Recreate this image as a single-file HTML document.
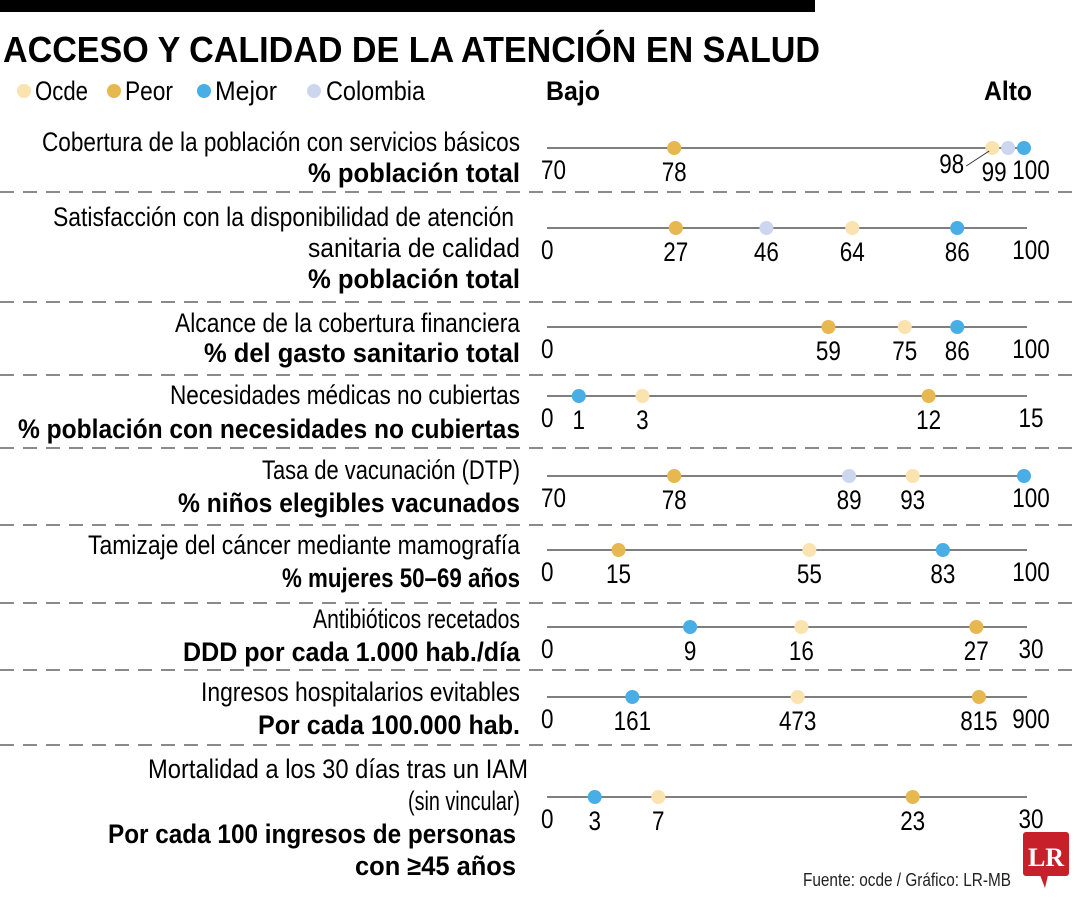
<!DOCTYPE html>
<html><head><meta charset="utf-8"><style>
html,body{margin:0;padding:0;background:#fff;}
svg{display:block;font-family:"Liberation Sans Narrow","Liberation Sans",sans-serif;}
</style></head><body>
<svg id="chart" width="1080" height="900" viewBox="0 0 1080 900">
<rect x="0" y="0" width="815" height="12" fill="#000"/>
<text x="3" y="62" font-size="36" font-weight="bold" textLength="817" lengthAdjust="spacingAndGlyphs" font-family="Liberation Sans,sans-serif">ACCESO Y CALIDAD DE LA ATENCIÓN EN SALUD</text>
<g font-size="27">
<g><circle cx="24" cy="91" r="7" fill="#fbe3b0"/><text x="35" y="100" textLength="53" lengthAdjust="spacingAndGlyphs">Ocde</text></g>
<g><circle cx="114" cy="91" r="7" fill="#e8b850"/><text x="125" y="100" textLength="48" lengthAdjust="spacingAndGlyphs">Peor</text></g>
<g><circle cx="204" cy="91" r="7" fill="#4aaee6"/><text x="215" y="100" textLength="62" lengthAdjust="spacingAndGlyphs">Mejor</text></g>
<g><circle cx="314" cy="91" r="7" fill="#ccd6ee"/><text x="326" y="100" textLength="99" lengthAdjust="spacingAndGlyphs">Colombia</text></g>
</g>
<text x="546" y="100" font-size="27" font-weight="bold" textLength="54" lengthAdjust="spacingAndGlyphs">Bajo</text>
<text x="1032" y="100" font-size="27" font-weight="bold" text-anchor="end" textLength="48" lengthAdjust="spacingAndGlyphs">Alto</text>
<g font-size="27" text-anchor="end">
<text x="520" y="151" textLength="478" lengthAdjust="spacingAndGlyphs">Cobertura de la población con servicios básicos</text>
<text x="520" y="182" font-weight="bold" textLength="212" lengthAdjust="spacingAndGlyphs">% población total</text>
<text x="514" y="226" textLength="461" lengthAdjust="spacingAndGlyphs">Satisfacción con la disponibilidad de atención</text>
<text x="520" y="257" textLength="212" lengthAdjust="spacingAndGlyphs">sanitaria de calidad</text>
<text x="520" y="288" font-weight="bold" textLength="212" lengthAdjust="spacingAndGlyphs">% población total</text>
<text x="520" y="332" textLength="345" lengthAdjust="spacingAndGlyphs">Alcance de la cobertura financiera</text>
<text x="520" y="362" font-weight="bold" textLength="316" lengthAdjust="spacingAndGlyphs">% del gasto sanitario total</text>
<text x="520" y="404" textLength="350" lengthAdjust="spacingAndGlyphs">Necesidades médicas no cubiertas</text>
<text x="520" y="438" font-weight="bold" textLength="502" lengthAdjust="spacingAndGlyphs">% población con necesidades no cubiertas</text>
<text x="520" y="479" textLength="258" lengthAdjust="spacingAndGlyphs">Tasa de vacunación (DTP)</text>
<text x="520" y="512" font-weight="bold" textLength="342" lengthAdjust="spacingAndGlyphs">% niños elegibles vacunados</text>
<text x="520" y="554" textLength="432" lengthAdjust="spacingAndGlyphs">Tamizaje del cáncer mediante mamografía</text>
<text x="520" y="587" font-weight="bold" textLength="238" lengthAdjust="spacingAndGlyphs">% mujeres 50–69 años</text>
<text x="520" y="628" textLength="207" lengthAdjust="spacingAndGlyphs">Antibióticos recetados</text>
<text x="520" y="661" font-weight="bold" textLength="337" lengthAdjust="spacingAndGlyphs">DDD por cada 1.000 hab./día</text>
<text x="520" y="701" textLength="319" lengthAdjust="spacingAndGlyphs">Ingresos hospitalarios evitables</text>
<text x="520" y="734" font-weight="bold" textLength="262" lengthAdjust="spacingAndGlyphs">Por cada 100.000 hab.</text>
<text x="528" y="778" textLength="380" lengthAdjust="spacingAndGlyphs">Mortalidad a los 30 días tras un IAM</text>
<text x="520" y="810" textLength="112" lengthAdjust="spacingAndGlyphs">(sin vincular)</text>
<text x="516" y="843" font-weight="bold" textLength="408" lengthAdjust="spacingAndGlyphs">Por cada 100 ingresos de personas</text>
<text x="516" y="875" font-weight="bold" textLength="161" lengthAdjust="spacingAndGlyphs">con ≥45 años</text>
</g>
<g id="plot"></g>
<text x="803" y="886" font-size="18" textLength="208" lengthAdjust="spacingAndGlyphs" fill="#222">Fuente: ocde / Gráfico: LR-MB</text>
<g>
<rect x="1023" y="832" width="46" height="44" rx="3" fill="#c8202a"/>
<polygon points="1040,875 1048,875 1045,888" fill="#c8202a"/>
<text x="1046" y="866" font-size="26" font-weight="bold" font-family="Liberation Serif,serif" fill="#fff" text-anchor="middle">LR</text>
</g>
</svg>
<script>
const rowMins = [70, 0, 0, 0, 70, 0, 0, 0, 0];
const rowMaxs = [100, 100, 100, 15, 100, 100, 30, 900, 30];
const ocdeValues = [98, 64, 75, 3, 93, 55, 16, 473, 7];
const peorValues = [78, 27, 59, 12, 78, 15, 27, 815, 23];
const mejorValues = [100, 86, 86, 1, 100, 83, 9, 161, 3];
const colombiaValues = [99, 46, null, null, 89, null, null, null, null];
const rowNames = ['cobertura','satisfaccion','alcance','necesidades','vacunacion','tamizaje','antibioticos','ingresos','mortalidad'];

const NS = 'http://www.w3.org/2000/svg';
const plot = document.getElementById('plot');
const X0 = 547, X1 = 1024, LINE_END = 1027;
const DIGIT_W = 12.5;
const lineYs = [148, 228, 327, 396, 476, 550, 627, 697, 797];
const sepYs = [192, 302, 375, 448, 525, 603, 670, 745];
function xScale(i, v){ return X0 + (v - rowMins[i]) / (rowMaxs[i] - rowMins[i]) * (X1 - X0); }
function mk(tag, attrs){ const e = document.createElementNS(NS, tag); for (const k in attrs) e.setAttribute(k, attrs[k]); plot.appendChild(e); return e; }
function numText(attrs, v){
  const s = String(v);
  attrs.textLength = s.length * DIGIT_W;
  attrs.lengthAdjust = 'spacingAndGlyphs';
  attrs['font-size'] = 27;
  const t = mk('text', attrs);
  t.textContent = s;
  return t;
}

sepYs.forEach(y => {
  const s = mk('line', {x1: 0, x2: 1080, y1: y, y2: y, stroke: '#444', 'stroke-width': 1.3, 'stroke-dasharray': '14 9'});
  
  
});

const series = [
  {vals: ocdeValues, color: '#fbe3b0', name: 'ocde'},
  {vals: peorValues, color: '#e8b850', name: 'peor'},
  {vals: colombiaValues, color: '#ccd6ee', name: 'colombia'},
  {vals: mejorValues, color: '#4aaee6', name: 'mejor'}
];

rowNames.forEach((rn, i) => {
  const y = lineYs[i];
  const ln = mk('line', {x1: X0, x2: LINE_END, y1: y, y2: y, stroke: '#333', 'stroke-width': 1.3});
  
  
  const mn = numText({x: 541, y: y + 31}, rowMins[i]);
  
  
  const mx = numText({x: 1031, y: y + 31, 'text-anchor': 'middle'}, rowMaxs[i]);
  
  
  series.forEach(s => {
    const v = s.vals[i];
    if (v === null || v === undefined) return;
    const cx = xScale(i, v);
    const c = mk('circle', {cx: cx, cy: y, r: 7, fill: s.color});
    
    
    if (s.name === 'mejor' && v === rowMaxs[i]) return;
    let lx = cx, anchor = 'middle';
    const special = (i === 0 && s.name === 'ocde');
    if (special) {
      lx = cx - 28; anchor = 'end';
      const ld = mk('line', {x1: cx - 26, y1: y + 18, x2: cx - 3, y2: y + 3, stroke: '#333', 'stroke-width': 1});
      
      
    }
    if (i === 0 && s.name === 'colombia') lx = cx - 14;
    const t = numText({x: lx, y: y + (special ? 25 : 33), 'text-anchor': anchor}, v);
    
    
  });
});
</script>
</body></html>
